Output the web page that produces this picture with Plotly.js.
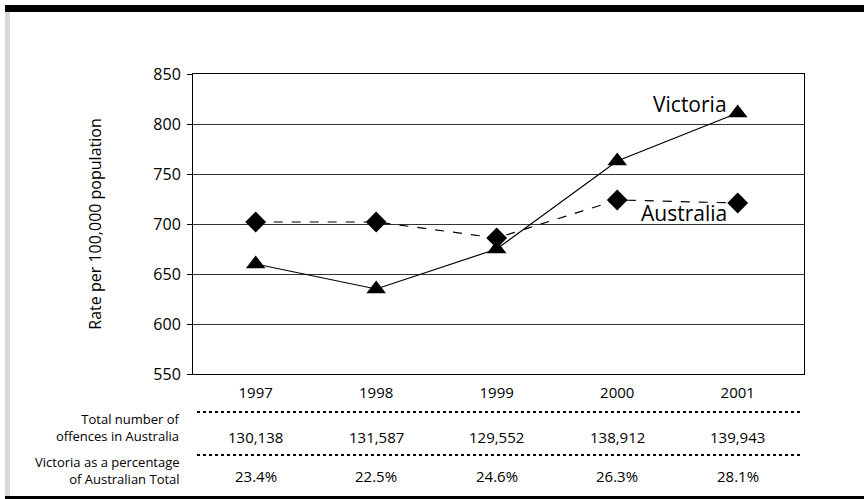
<!DOCTYPE html>
<html>
<head>
<meta charset="utf-8">
<script src="https://cdn.plot.ly/plotly-3.0.1.min.js"></script>
<style>
html,body{margin:0;padding:0;background:#fff;}
#chart{width:864px;height:499px;}
</style>
</head>
<body>
<div id="chart"></div>
<script>
var years = ['1997', '1998', '1999', '2000', '2001'];
var victoria = [660, 635, 675, 763, 811];
var australia = [702, 702, 686, 724, 721];
var totalOffences = ['130,138', '131,587', '129,552', '138,912', '139,943'];
var victoriaPct = ['23.4%', '22.5%', '24.6%', '26.3%', '28.1%'];
var yTicks = [550, 600, 650, 700, 750, 800, 850];

var FONT = '"Open Sans", Lato, sans-serif';

var traces = [
  {
    x: years, y: australia, type: 'scatter', mode: 'lines+markers', name: 'Australia',
    line: {color: '#000', width: 1.2, dash: 'dash'},
    marker: {symbol: 'diamond', size: 16, color: '#000'},
    hoverinfo: 'skip'
  },
  {
    x: years, y: victoria, type: 'scatter', mode: 'lines+markers', name: 'Victoria',
    line: {color: '#000', width: 1.2},
    marker: {symbol: 'triangle-up', size: 17, color: '#000'},
    hoverinfo: 'skip'
  }
];

var annotations = [];
years.forEach(function (yr, i) {
  annotations.push({x: i, xref: 'x', y: -0.21, yref: 'paper', text: totalOffences[i],
    showarrow: false, xanchor: 'center', yanchor: 'middle', font: {family: FONT, size: 15, color: '#000'}});
  annotations.push({x: i, xref: 'x', y: -0.34, yref: 'paper', text: victoriaPct[i],
    showarrow: false, xanchor: 'center', yanchor: 'middle', font: {family: FONT, size: 15, color: '#000'}});
});
annotations.push({x: -0.018, xref: 'paper', y: -0.1767, yref: 'paper', text: 'Total number of<br>offences in Australia',
  showarrow: false, xanchor: 'right', yanchor: 'middle', align: 'right', font: {family: FONT, size: 13, color: '#000'}});
annotations.push({x: -0.018, xref: 'paper', y: -0.3233, yref: 'paper', text: 'Victoria as a percentage<br>of Australian Total',
  showarrow: false, xanchor: 'right', yanchor: 'middle', align: 'right', font: {family: FONT, size: 13, color: '#000'}});
annotations.push({x: 4, xref: 'x', y: 820, yref: 'y', text: 'Victoria', xshift: -9,
  showarrow: false, xanchor: 'right', yanchor: 'middle', font: {family: FONT, size: 21, color: '#000'}});
annotations.push({x: 4, xref: 'x', y: 711, yref: 'y', text: 'Australia', xshift: -9,
  showarrow: false, xanchor: 'right', yanchor: 'middle', font: {family: FONT, size: 21, color: '#000'}});

var shapes = [
  {type: 'rect', xref: 'paper', yref: 'paper', x0: -0.3077, x1: 1.1, y0: 1.2067, y1: 1.23, fillcolor: '#000', line: {width: 0}},
  {type: 'rect', xref: 'paper', yref: 'paper', x0: -0.3077, x1: -0.2995, y0: -0.4067, y1: 1.2067, fillcolor: '#d9d9d9', line: {width: 0}},
  {type: 'rect', xref: 'paper', yref: 'paper', x0: -0.3077, x1: 1.1, y0: -0.43, y1: -0.4067, fillcolor: '#000', line: {width: 0}},
  {type: 'line', xref: 'paper', yref: 'paper', x0: 0.0065, x1: 0.9935, y0: -0.1267, y1: -0.1267, line: {color: '#000', width: 2, dash: 'dot'}},
  {type: 'line', xref: 'paper', yref: 'paper', x0: 0.0065, x1: 0.9935, y0: -0.27, y1: -0.27, line: {color: '#000', width: 2, dash: 'dot'}}
];

var layout = {
  width: 864, height: 499,
  margin: {l: 193, r: 60, t: 74, b: 125, pad: 0},
  paper_bgcolor: '#fff', plot_bgcolor: '#fff',
  showlegend: false,
  font: {family: FONT, color: '#000'},
  xaxis: {
    type: 'category', range: [-0.52, 4.55], showgrid: false, zeroline: false,
    showline: true, mirror: true, linecolor: '#000', linewidth: 1,
    ticks: '', ticklabelstandoff: 5, tickfont: {family: FONT, size: 15, color: '#000'}, fixedrange: true
  },
  yaxis: {
    range: [550, 850], tickvals: yTicks, showgrid: true, gridcolor: '#333', gridwidth: 1,
    zeroline: false, showline: true, mirror: true, linecolor: '#000', linewidth: 1,
    ticks: 'outside', ticklen: 5, tickcolor: '#000', ticklabelstandoff: 3,
    tickfont: {family: FONT, size: 16, color: '#000'},
    title: {text: 'Rate per 100,000 population', font: {family: FONT, size: 16, color: '#000'}, standoff: 47},
    fixedrange: true
  },
  annotations: annotations,
  shapes: shapes
};

Plotly.newPlot('chart', traces, layout, {displayModeBar: false, staticPlot: true});
</script>
</body>
</html>
